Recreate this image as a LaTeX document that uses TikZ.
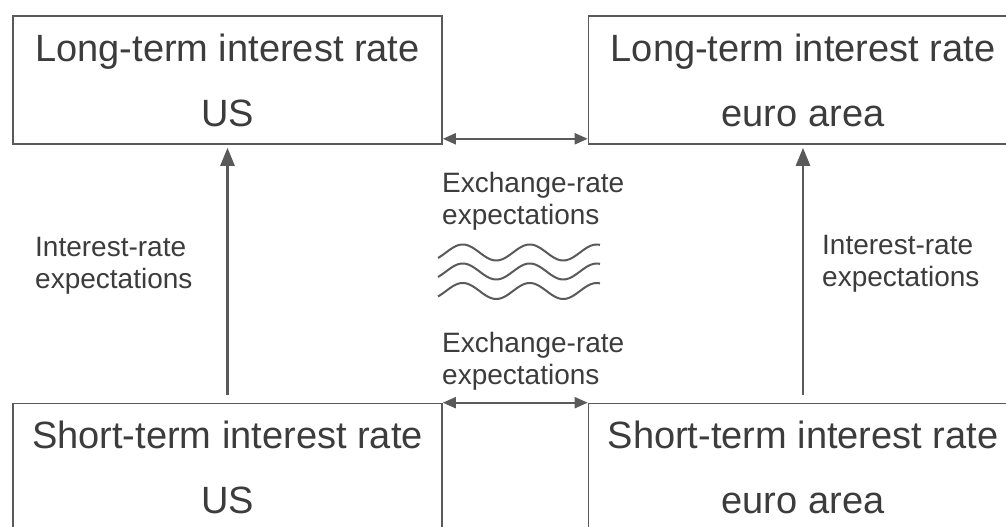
\documentclass[tikz,border=0pt]{standalone}
\usepackage{fontspec}
\setmainfont{Liberation Sans}
\usetikzlibrary{arrows.meta}
\definecolor{linegray}{HTML}{5A5A5A}
\definecolor{textgray}{HTML}{3C3C3C}
\begin{document}
\begin{tikzpicture}[x=1pt,y=1pt,
  box/.style={draw=linegray, line width=1.6pt, minimum width=429pt, minimum height=128pt,
    inner sep=0pt, align=center, text=textgray, font=\fontsize{38}{65}\selectfont},
  lbl/.style={inner sep=0pt, align=left, text=textgray, font=\fontsize{28}{32}\selectfont, anchor=north west},
  uparrow/.style={draw=linegray, line width=2.6pt, -{Triangle[length=18pt,width=14pt]}},
  dblarrow/.style={draw=linegray, line width=2pt, {Triangle[length=13pt,width=11pt]}-{Triangle[length=13pt,width=11pt]}},
  wave/.style={draw=linegray, line width=2pt}
]
\clip (0,0) rectangle (1006,527);
\fill[white] (0,0) rectangle (1006,527);

\node[box] (tl) at (227.5,447) {Long-term interest rate\\US};
\node[box] (tr) at (803,447) {Long-term interest rate\\euro area};
\node[box] (bl) at (227.5,59.5) {Short-term interest rate\\US};
\node[box] (br) at (803,59.5) {Short-term interest rate\\euro area};

\draw[uparrow, shorten <=8pt, shorten >=3pt] (bl.north) -- (tl.south);
\draw[uparrow, shorten <=8pt, shorten >=3pt] (br.north) -- (tr.south);

\draw[dblarrow] ([yshift=6pt]tl.south east) -- ([yshift=6pt]tr.south west);
\draw[dblarrow] (bl.north east) -- (br.north west);

\node[lbl] (il) at (35,290) {Interest-rate\\expectations};
\node[lbl] (ir) at (822,292) {Interest-rate\\expectations};
\node[lbl] (et) at (442,355) {Exchange-rate\\expectations};
\node[lbl] (eb) at (442,195) {Exchange-rate\\expectations};

\foreach \c in {274.5,255.5,236}{
  \draw[wave] plot[domain=-8:154, samples=90, smooth] ({446+\x}, {\c+8*sin(5.373*\x)});
}
\end{tikzpicture}
\end{document}
